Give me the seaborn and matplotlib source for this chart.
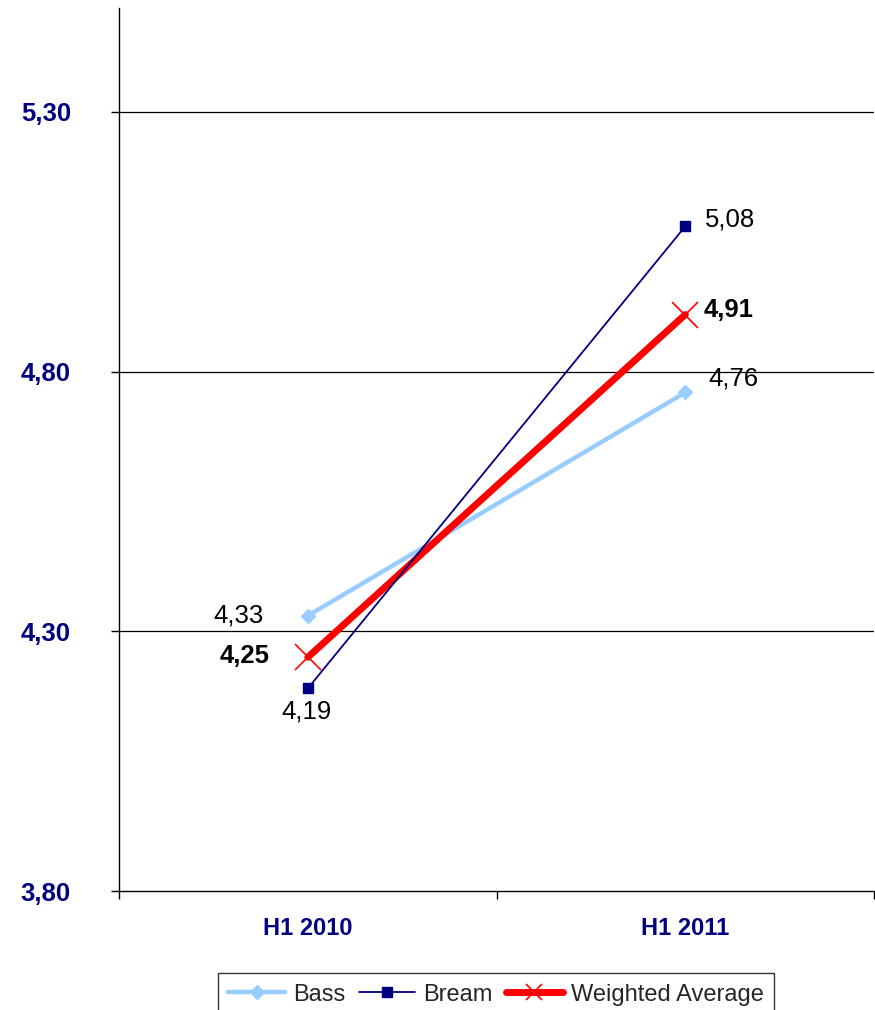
import matplotlib
matplotlib.use("Agg")
import matplotlib.pyplot as plt
import seaborn as sns
import pandas as pd

periods = ["H1 2010", "H1 2011"]
bass = [4.33, 4.76]
bream = [4.19, 5.08]
weighted = [4.25, 4.91]
y_ticks = [3.80, 4.30, 4.80, 5.30]
y_tick_labels = ["3,80", "4,30", "4,80", "5,30"]

sns.set_theme(style="white")
plt.rcParams["font.family"] = ["Liberation Sans", "DejaVu Sans"]

df = pd.DataFrame({
    "period": periods * 3,
    "value": bass + bream + weighted,
    "series": ["Bass"] * 2 + ["Bream"] * 2 + ["Weighted Average"] * 2,
})

styles = {
    "Bass": dict(color="#99CCFF", lw=3.2, marker="D", ms=7, mew=1, bold=False, z=3, leg_ms=7),
    "Bream": dict(color="#000080", lw=1.3, marker="s", ms=7.5, mew=1, bold=False, z=4, leg_ms=7),
    "Weighted Average": dict(color="#FF0000", lw=5, marker="x", ms=19, mew=1.2, bold=True, z=3.5, leg_ms=11),
}

fig = plt.figure(figsize=(8.75, 10.10), dpi=100)
ax = fig.add_axes([0.136, 0.1178, 0.863, 0.8742])

for name, st in styles.items():
    sub = df[df["series"] == name]
    sns.lineplot(data=sub, x="period", y="value", ax=ax, color=st["color"], lw=st["lw"],
                 marker=st["marker"], markersize=st["ms"], markeredgecolor=st["color"],
                 markeredgewidth=st["mew"], label=name, sort=False, zorder=st["z"])

# value labels: (dx, dy) in pixels from the point, text anchored on its baseline
offsets = {
    "Bass": [(-44, -7, "right"), (23, 7, "left")],
    "Bream": [(-1, -30, "center"), (20, 0, "left")],
    "Weighted Average": [(-38, -6, "right"), (18, -2, "left")],
}
series_vals = {"Bass": bass, "Bream": bream, "Weighted Average": weighted}
for name, vals in series_vals.items():
    for i, v in enumerate(vals):
        dx, dy, ha = offsets[name][i]
        ax.annotate(f"{v:.2f}".replace(".", ","), (i, v), xytext=(dx, dy),
                    textcoords="offset pixels", ha=ha, va="baseline", fontsize=18.5,
                    fontweight="bold" if styles[name]["bold"] else "normal",
                    color="black", zorder=5)

ax.set_xlim(-0.5, 1.5)
ax.set_ylim(3.80, 5.50)
ax.set_yticks(y_ticks)
ax.set_yticklabels(y_tick_labels, fontsize=18.5, fontweight="bold", color="#000080")
ax.tick_params(axis="y", which="major", direction="out", length=6, width=1, color="black",
               pad=28.6, left=True)

ax.set_xticks([-0.5, 0.5, 1.5])
ax.set_xticklabels([])
ax.set_xticks([0, 1], minor=True)
ax.set_xticklabels(periods, minor=True, fontsize=17, fontweight="bold", color="#000080")
ax.tick_params(axis="x", which="major", direction="out", length=6, width=1, color="black", bottom=True)
ax.tick_params(axis="x", which="minor", length=0, pad=19)
ax.set_xlabel("")
ax.set_ylabel("")

for y in y_ticks[1:]:
    ax.axhline(y, color="black", lw=0.9, zorder=1)

for s in ["top", "right"]:
    ax.spines[s].set_visible(False)
for s in ["left", "bottom"]:
    ax.spines[s].set_color("black")
    ax.spines[s].set_linewidth(1)

ax.get_legend().remove()
handles, labels = ax.get_legend_handles_labels()
leg = fig.legend(handles, labels, loc="upper center", bbox_to_anchor=(0.5669, 0.0366), ncol=3,
                 fontsize=17, frameon=True, fancybox=False, edgecolor="black", handlelength=2.4,
                 handletextpad=0.35, columnspacing=0.55, borderpad=0.45, borderaxespad=0)
leg.get_frame().set_linewidth(1)
for h, name in zip(leg.legend_handles, labels):
    h.set_markersize(styles[name]["leg_ms"])

fig.savefig("out.png", dpi=100, facecolor="white")
